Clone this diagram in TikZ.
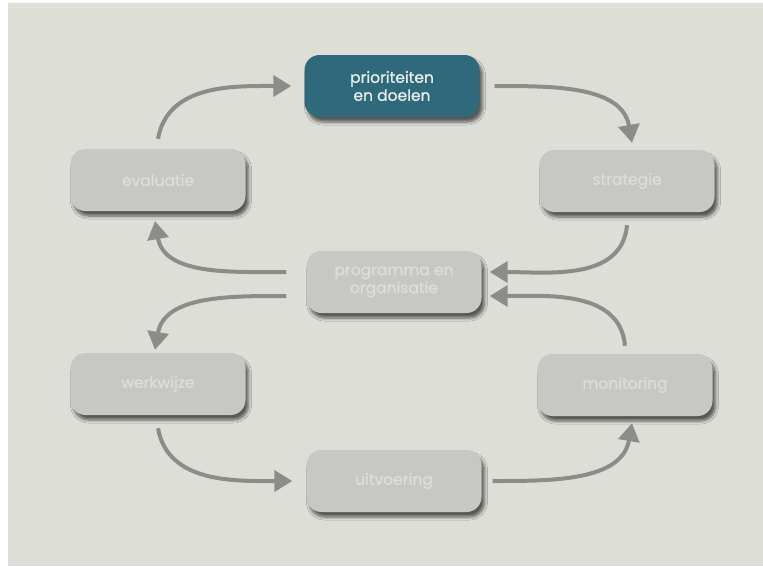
\documentclass[tikz,border=0pt]{standalone}
\usepackage{fontspec}
\setmainfont{Poppins}
\newfontfamily\boxfont{Poppins}[FakeBold=1.1]
\usetikzlibrary{arrows.meta,shadows.blur}
\definecolor{bgc}{HTML}{DEDED9}
\definecolor{boxc}{HTML}{C7C7C3}
\definecolor{boxtxt}{HTML}{DCDCD8}
\definecolor{tealc}{HTML}{306A7A}
\definecolor{tealtxt}{HTML}{E6ECEC}
\definecolor{arrc}{HTML}{8C8C8A}
\tikzset{
  stepbox/.style={rounded corners=15pt, minimum width=175pt, minimum height=62pt,
    fill=boxc, text=boxtxt, font=\boxfont\fontsize{15.5}{18}\selectfont, align=center,
    inner sep=0pt,
    blur shadow={shadow xshift=3pt, shadow yshift=-5pt, shadow blur steps=6, shadow opacity=60, shadow blur radius=3pt}},
  keybox/.style={stepbox, fill=tealc, text=tealtxt},
  flow/.style={draw=arrc, line width=4pt, -{Triangle[length=18pt,width=21pt]}, color=arrc}
}
\begin{document}
\begin{tikzpicture}[x=1pt,y=-1pt]
\fill[white] (0,0) rectangle (763,566);
\fill[bgc] (8,3) rectangle (763,566);
\useasboundingbox (0,0) rectangle (763,566);

\node[keybox]  (prio) at (392,86)  {prioriteiten\\en doelen};
\node[stepbox] (strat) at (627,181) {strategie};
\node[stepbox] (eval) at (158,180) {evaluatie};
\node[stepbox] (prog) at (394,282) {programma en\\organisatie};
\node[stepbox] (werk) at (158,384) {werkwijze};
\node[stepbox] (mon) at (625,385) {monitoring};
\node[stepbox] (uit) at (394,481) {uitvoering};

\draw[flow] ([yshift=10pt]eval.north) to[out=80,in=180] ([xshift=-13pt]prio.west);
\draw[flow] ([xshift=15pt]prio.east) to[out=0,in=100] ([shift={(5pt,7pt)}]strat.north);
\draw[flow] ([yshift=-13pt]strat.south) to[out=-95,in=0] ([shift={(8pt,10pt)}]prog.east);
\draw[flow] ([yshift=8pt]mon.north) to[out=95,in=0] ([shift={(8pt,-14pt)}]prog.east);
\draw[flow] ([shift={(-20pt,10pt)}]prog.west) to[out=180,in=-80] ([shift={(-3pt,-10pt)}]eval.south);
\draw[flow] ([shift={(-20pt,-14pt)}]prog.west) to[out=180,in=80] ([shift={(-3pt,3pt)}]werk.north);
\draw[flow] ([yshift=-13pt]werk.south) to[out=-80,in=180] ([xshift=-14pt]uit.west);
\draw[flow] ([xshift=11pt]uit.east) to[out=0,in=-100] ([shift={(7pt,-7pt)}]mon.south);
\end{tikzpicture}
\end{document}
